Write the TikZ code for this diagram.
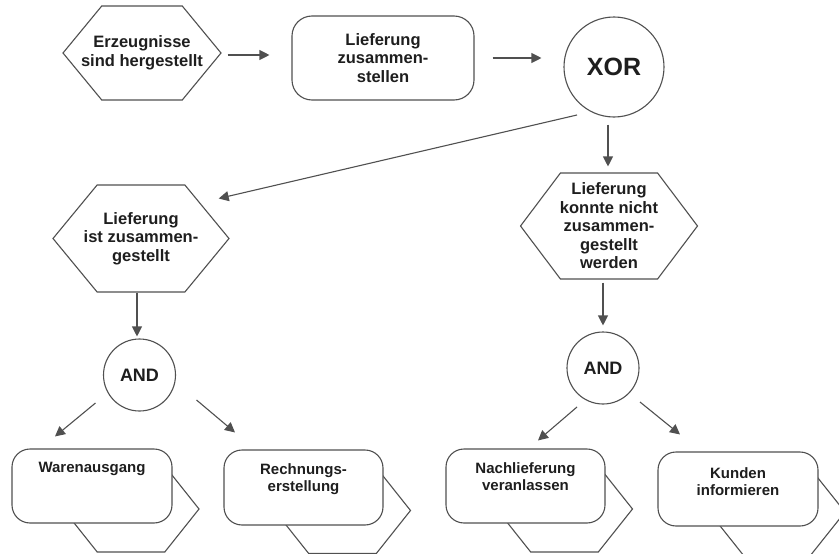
\documentclass[tikz,border=0pt]{standalone}
\usepackage{fontspec}
\setmainfont{Liberation Sans}
\usetikzlibrary{shapes.symbols,arrows.meta,positioning}
\definecolor{linie}{HTML}{505050}
\definecolor{schrift}{HTML}{1E1E1E}
\tikzset{
  ereignis/.style={signal, signal to=east and west, signal pointer angle=101,
    draw=linie, line width=1.1pt, fill=white, inner sep=0pt},
  ereignistext/.style={anchor=center, align=center, text=schrift, inner sep=0pt,
    font=\bfseries\fontsize{16.5}{18.5}\selectfont},
  ereignisklein/.style={ereignis, minimum width=136pt, minimum height=86pt,
    signal pointer angle=103},
  funktion/.style={rectangle, rounded corners=20pt, draw=linie, line width=1.1pt,
    fill=white, inner sep=0pt, align=center, text=schrift,
    font=\bfseries\fontsize{16.5}{18.5}\selectfont},
  funktionklein/.style={funktion, rounded corners=18pt, minimum width=160pt,
    minimum height=74pt},
  funktext/.style={anchor=north, yshift=-14pt, align=center, text=schrift,
    inner sep=0pt, font=\bfseries\fontsize{15}{17}\selectfont},
  konnektor/.style={circle, draw=linie, line width=1.1pt, fill=white,
    inner sep=0pt, text=schrift, font=\bfseries\fontsize{18}{20}\selectfont},
  pfeil/.style={draw=linie, line width=1.1pt, -{Triangle[length=10pt,width=10pt]}}
}
\begin{document}
\begin{tikzpicture}[x=1pt, y=-1pt]
  \useasboundingbox[fill=white] (0,0) rectangle (839,554);

  % obere Reihe
  \node[ereignis, minimum width=158pt, minimum height=94pt,
    label={[ereignistext]center:Erzeugnisse\\sind hergestellt}] (erzeugnisse) at (142,53) {};
  \node[funktion, minimum width=182pt, minimum height=84pt] (zusammenstellen) at (383,58)
    {Lieferung\\zusammen-\\stellen};
  \node[konnektor, minimum size=100pt, font=\bfseries\fontsize{25}{27}\selectfont] (xor) at (614,67) {XOR};

  % Ereignisse nach XOR
  \node[ereignis, minimum width=176pt, minimum height=107pt,
    label={[ereignistext]center:Lieferung\\ist zusammen-\\gestellt}] (zusammengestellt) at (141,238.5) {};
  \node[ereignis, minimum width=177pt, minimum height=106pt, signal pointer angle=106,
    label={[ereignistext]center:Lieferung\\konnte nicht\\zusammen-\\gestellt\\werden}] (nichtzusammen) at (609,226) {};

  % AND-Konnektoren
  \node[konnektor, minimum size=72pt] (und1) at (139.5,375) {AND};
  \node[konnektor, minimum size=72pt] (und2) at (603,368) {AND};

  % untere Funktionen mit Ereignis dahinter
  \node[ereignisklein] (warenausgang-e) at (131,509) {};
  \node[funktionklein, label={[funktext]north:Warenausgang}] (warenausgang) at (92,486) {};
  \node[ereignisklein] (rechnung-e) at (342.5,510.5) {};
  \node[funktionklein, minimum width=159pt, minimum height=75pt,
    label={[funktext]north:Rechnungs-\\erstellung}] (rechnung) at (303.5,487.5) {};
  \node[ereignisklein] (nachlieferung-e) at (564.5,509) {};
  \node[funktionklein, minimum width=159pt,
    label={[funktext]north:Nachlieferung\\veranlassen}] (nachlieferung) at (525.5,486) {};
  \node[ereignisklein] (kunden-e) at (777,512) {};
  \node[funktionklein, label={[funktext,yshift=-2pt]north:Kunden\\informieren}] (kunden) at (738,489) {};

  % Pfeile
  \draw[pfeil, shorten <=6pt, shorten >=22pt] ([yshift=-2]erzeugnisse.east) -- ([yshift=-2]erzeugnisse.east -| zusammenstellen.west);
  \draw[pfeil, shorten <=18pt, shorten >=22pt] (zusammenstellen.east) -- (zusammenstellen.east -| xor.west);
  \draw[pfeil] ([shift={(-37,48)}]xor.center) -- ([shift={(-11,-40)}]zusammengestellt.east);
  \draw[pfeil, shorten <=7pt, shorten >=6pt] ([xshift=-6]xor.south) -- ([xshift=-6]xor.south |- nichtzusammen.north);
  \draw[pfeil, shorten >=2pt] ([xshift=-4]zusammengestellt.south) -- ([xshift=-4]zusammengestellt.south |- und1.north);
  \draw[pfeil, shorten <=3pt, shorten >=6pt] (nichtzusammen.south -| und2.north) -- (und2.north);
  \draw[pfeil] ([shift={(-44,28)}]und1.center) -- ([shift={(-37,-12)}]warenausgang.north);
  \draw[pfeil] ([shift={(57,25)}]und1.center) -- ([shift={(-68.5,-17)}]rechnung.north);
  \draw[pfeil] ([shift={(-26,39)}]und2.center) -- ([shift={(12.5,-8)}]nachlieferung.north);
  \draw[pfeil] ([shift={(37,34)}]und2.center) -- ([shift={(-58,-17)}]kunden.north);
\end{tikzpicture}
\end{document}
